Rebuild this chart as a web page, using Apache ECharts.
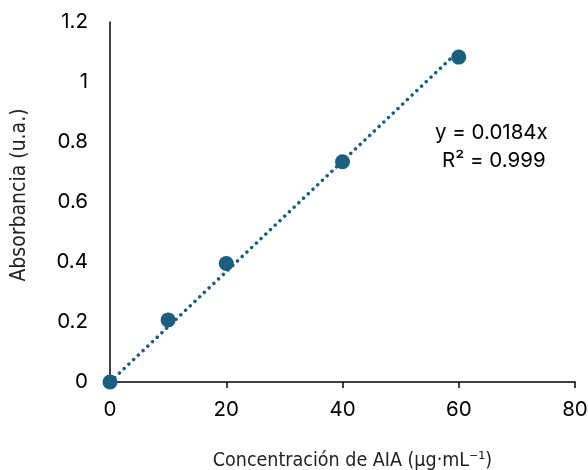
<!DOCTYPE html>
<html>
<head>
<meta charset="utf-8">
<script src="https://cdn.jsdelivr.net/npm/echarts@6/dist/echarts.min.js"></script>
<style>
  html, body { margin: 0; padding: 0; background: #fff; }
  #chart { width: 588px; height: 470px; }
</style>
</head>
<body>
<div id="chart"></div>
<script>
// concentration (µg/mL) and measured absorbance
const concentration = [0, 10, 20, 40, 60];
const absorbance = [0, 0.207, 0.395, 0.734, 1.083];
// linear fit through origin
const slope = 0.0184;
const fitX = [0, 60];
const xTicks = [0, 20, 40, 60, 80];
const yTicks = [0, 0.2, 0.4, 0.6, 0.8, 1, 1.2];

const points = concentration.map((c, i) => [c, absorbance[i]]);
const fitLine = fitX.map(x => [x, +(slope * x).toFixed(4)]);

const color = '#1b5e7e';
const font = 'Inter, "Noto Sans", sans-serif';
const narrow = '"DejaVu Sans Condensed", "Liberation Sans Narrow", Roboto, sans-serif';

const myChart = echarts.init(document.getElementById('chart'));
myChart.setOption({
  animation: false,
  grid: { left: 110, right: 13, top: 22, bottom: 88, outerBoundsMode: 'none', containLabel: false },
  xAxis: {
    type: 'value',
    min: xTicks[0],
    max: xTicks[xTicks.length - 1],
    interval: 20,
    splitLine: { show: false },
    axisLine: { lineStyle: { color: '#000', width: 1.5 } },
    axisTick: { show: true, length: 6, lineStyle: { color: '#000', width: 1.5 } },
    axisLabel: { color: '#000', fontSize: 20.5, fontFamily: font, margin: 17 },
    name: 'Concentración de AIA (μg·mL⁻¹)',
    nameLocation: 'middle',
    nameGap: 69,
    nameTextStyle: { color: '#222', fontSize: 19.5, fontFamily: narrow, padding: [0, 0, 0, 20] }
  },
  yAxis: {
    type: 'value',
    min: yTicks[0],
    max: yTicks[yTicks.length - 1],
    interval: 0.2,
    splitLine: { show: false },
    axisLine: { show: true, lineStyle: { color: '#000', width: 1.5 } },
    axisTick: { show: false },
    axisLabel: { color: '#000', fontSize: 20.5, fontFamily: font, margin: 22 },
    name: 'Absorbancia (u.a.)',
    nameLocation: 'middle',
    nameGap: 80,
    nameTextStyle: { color: '#222', fontSize: 21, fontFamily: narrow, padding: [0, 0, 0, 14] }
  },
  graphic: [
    {
      type: 'text',
      left: 435, top: 122,
      style: { text: 'y = 0.0184x', fontSize: 20.5, fontFamily: font, fill: '#000' }
    },
    {
      type: 'text',
      left: 442, top: 150,
      style: { text: 'R² = 0.999', fontSize: 20.5, fontFamily: font, fill: '#000' }
    }
  ],
  series: [
    {
      type: 'line',
      data: fitLine,
      symbol: 'none',
      lineStyle: { color: color, width: 3.5, type: [0.01, 6.5], cap: 'round' },
      z: 1
    },
    {
      type: 'scatter',
      data: points,
      symbol: 'circle',
      symbolSize: 15,
      itemStyle: { color: color, opacity: 1 },
      z: 2
    }
  ]
});
</script>
</body>
</html>
